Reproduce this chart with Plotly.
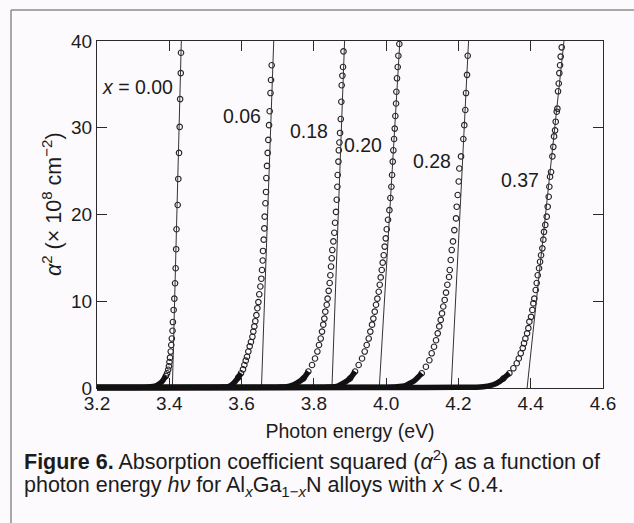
import plotly.graph_objects as go

# ---------------- data: alpha^2 (x 1e8 cm^-2) versus photon energy (eV) ----------------
COMPOSITIONS = ["0.00", "0.06", "0.18", "0.20", "0.28", "0.37"]

# measured points (resolved circles)
E_000 = [3.4324, 3.4318, 3.4300, 3.4288, 3.4270, 3.4250, 3.4233, 3.4200, 3.4190, 3.4176,
         3.4160, 3.4140, 3.4120, 3.4100, 3.4090, 3.4070, 3.4055, 3.4040, 3.4020, 3.4005,
         3.3990, 3.3970, 3.3940, 3.3910]
A2_000 = [38.65, 36.3, 33.3, 30.1, 27.1, 24.1, 21.1, 18.3, 16.0, 13.8,
          12.07, 10.3, 9.0, 7.6, 6.6, 5.7, 4.96, 4.2, 3.5, 3.0,
          2.5, 2.1, 1.7, 1.4]

E_006 = [3.6833, 3.6815, 3.6800, 3.6778, 3.6760, 3.6740, 3.6723, 3.6704, 3.6685, 3.6677,
         3.6660, 3.6640, 3.6630, 3.6613, 3.6593, 3.6585, 3.6566, 3.6547, 3.6520, 3.6490,
         3.6465, 3.6437, 3.6410, 3.6380, 3.6353, 3.6325, 3.6300, 3.6260, 3.6225, 3.6187,
         3.6150, 3.6115, 3.6077, 3.6040, 3.5985, 3.5910]
A2_006 = [37.2, 35.5, 34.0, 31.9, 30.3, 28.6, 27.1, 25.6, 24.2, 22.6,
          21.3, 19.75, 18.4, 17.1, 15.8, 14.7, 13.6, 12.6, 11.7, 10.8,
          9.9, 9.2, 8.4, 7.7, 7.1, 6.5, 5.9, 5.3, 4.8, 4.2,
          3.6, 3.15, 2.65, 2.15, 1.7, 1.23]

E_018 = [3.8820, 3.8807, 3.8790, 3.8770, 3.8760, 3.8745, 3.8725, 3.8707, 3.8690, 3.8680,
         3.8660, 3.8650, 3.8633, 3.8613, 3.8586, 3.8566, 3.8540, 3.8510, 3.8495, 3.8475,
         3.8456, 3.8438, 3.8410, 3.8380, 3.8356, 3.8317, 3.8290, 3.8260, 3.8226, 3.8190,
         3.8143, 3.8097, 3.8032, 3.7950, 3.7847, 3.7710]
A2_018 = [38.8, 37.0, 36.0, 34.9, 33.0, 31.0, 29.4, 28.3, 27.4, 26.1,
          24.55, 23.2, 21.7, 20.3, 19.05, 17.9, 16.9, 15.9, 14.95, 14.0,
          13.0, 12.1, 11.2, 10.3, 9.6, 8.8, 8.0, 7.3, 6.5, 5.7,
          4.96, 4.2, 3.4, 2.65, 1.9, 1.1]

E_020 = [4.0365, 4.0338, 4.0320, 4.0300, 4.0283, 4.0274, 4.0255, 4.0238, 4.0220, 4.0200,
         4.0183, 4.0164, 4.0145, 4.0117, 4.0090, 4.0052, 4.0016, 3.9989, 3.9960, 3.9933,
         3.9905, 3.9878, 3.9850, 3.9823, 3.9795, 3.9757, 3.9720, 3.9685, 3.9646, 3.9610,
         3.9562, 3.9518, 3.9462, 3.9407, 3.9333, 3.9240, 3.9140, 3.9000]
A2_020 = [39.65, 38.3, 37.0, 35.7, 34.15, 32.8, 31.35, 29.9, 28.7, 27.4,
          26.1, 24.55, 23.2, 21.9, 20.5, 19.4, 18.3, 17.25, 16.3, 15.3,
          14.45, 13.6, 12.75, 11.9, 11.1, 10.3, 9.6, 8.8, 8.0, 7.3,
          6.5, 5.7, 4.96, 4.2, 3.4, 2.65, 1.9, 1.1]

E_028 = [4.2257, 4.2238, 4.2210, 4.2190, 4.2163, 4.2136, 4.2072, 4.2025, 4.2008, 4.1980,
         4.1953, 4.1934, 4.1887, 4.1850, 4.1815, 4.1787, 4.1760, 4.1740, 4.1693, 4.1657,
         4.1620, 4.1580, 4.1546, 4.1510, 4.1470, 4.1427, 4.1380, 4.1325, 4.1260, 4.1196,
         4.1100, 4.0985]
A2_028 = [38.3, 36.1, 34.0, 32.05, 30.3, 28.7, 26.7, 25.3, 23.8, 22.25,
          20.9, 19.55, 18.2, 16.9, 15.9, 14.75, 13.6, 12.8, 11.9, 11.0,
          10.15, 9.4, 8.6, 7.85, 7.1, 6.3, 5.5, 4.76, 4.0, 3.2,
          2.45, 1.7]

E_037 = [4.4858, 4.4830, 4.4812, 4.4792, 4.4775, 4.4756, 4.4738, 4.4720, 4.4692, 4.4674,
         4.4646, 4.4626, 4.4600, 4.4563, 4.4535, 4.4516, 4.4498, 4.4470, 4.4443, 4.4404,
         4.4368, 4.4350, 4.4322, 4.4286, 4.4258, 4.4230, 4.4194, 4.4166, 4.4138, 4.4100,
         4.4073, 4.4045, 4.4009, 4.3963, 4.3935, 4.3900, 4.3852, 4.3815, 4.3780, 4.3724,
         4.3670, 4.3613, 4.3520, 4.3410, 4.3243]
A2_037 = [39.27, 38.2, 37.2, 36.3, 35.1, 34.2, 32.2, 31.85, 30.7, 29.7,
          29.0, 27.8, 26.7, 24.9, 24.35, 23.2, 22.05, 20.9, 19.75, 18.8,
          18.0, 17.1, 16.1, 15.3, 14.55, 13.8, 13.0, 12.1, 11.3, 10.3,
          9.75, 9.0, 8.2, 7.65, 6.9, 6.3, 5.7, 5.15, 4.6, 4.0,
          3.4, 2.85, 2.27, 1.7, 1.1]

# densely sampled sub-gap tail and onset (overlapping circles merge into a solid band)
TAIL_E_000 = [3.20, 3.30, 3.34, 3.355, 3.365, 3.375, 3.383, 3.390]
TAIL_A2_000 = [0.05, 0.06, 0.10, 0.18, 0.30, 0.55, 0.9, 1.4]
TAIL_E_006 = [3.20, 3.40, 3.50, 3.54, 3.563, 3.574, 3.582, 3.591, 3.5985]
TAIL_A2_006 = [0.05, 0.06, 0.08, 0.10, 0.15, 0.4, 0.73, 1.23, 1.7]
TAIL_E_018 = [3.20, 3.50, 3.65, 3.70, 3.725, 3.740, 3.7525, 3.762, 3.771, 3.7847]
TAIL_A2_018 = [0.05, 0.06, 0.08, 0.10, 0.15, 0.3, 0.55, 0.8, 1.1, 1.9]
TAIL_E_020 = [3.20, 3.60, 3.78, 3.83, 3.8586, 3.870, 3.8816, 3.891, 3.900, 3.914]
TAIL_A2_020 = [0.05, 0.06, 0.08, 0.10, 0.15, 0.3, 0.55, 0.8, 1.1, 1.9]
TAIL_E_028 = [3.20, 3.70, 3.95, 4.02, 4.045, 4.057, 4.068, 4.080, 4.0985]
TAIL_A2_028 = [0.05, 0.06, 0.08, 0.12, 0.2, 0.35, 0.6, 0.92, 1.7]
TAIL_E_037 = [3.20, 3.80, 4.10, 4.20, 4.25, 4.269, 4.290, 4.306, 4.316, 4.3243, 4.341]
TAIL_A2_037 = [0.05, 0.06, 0.06, 0.08, 0.10, 0.15, 0.3, 0.55, 0.8, 1.1, 1.7]

# linear fits: energy where the fit crosses alpha^2 = 0 and alpha^2 = 40
FIT_E_AT_0 = [3.4085, 3.655, 3.850, 3.981, 4.180, 4.390]
FIT_E_AT_40 = [3.4333, 3.689, 3.885, 4.038, 4.228, 4.492]
FIT_A2 = [0, 40]

# composition labels
LABEL_TEXT = ["<i>x</i> = 0.00", "0.06", "0.18", "0.20", "0.28", "0.37"]
LABEL_E = [3.311, 3.600, 3.787, 3.937, 4.126, 4.369]
LABEL_A2 = [34.7, 31.4, 29.6, 28.0, 26.2, 24.0]

X_TICKS = [3.2, 3.4, 3.6, 3.8, 4.0, 4.2, 4.4, 4.6]
X_TICK_TEXT = ["3.2", "3.4", "3.6", "3.8", "4.0", "4.2", "4.4", "4.6"]
Y_TICKS = [0, 10, 20, 30, 40]
Y_TICK_TEXT = ["0", "10", "20", "30", "40"]

POINTS = [(E_000, A2_000), (E_006, A2_006), (E_018, A2_018),
          (E_020, A2_020), (E_028, A2_028), (E_037, A2_037)]
TAILS = [(TAIL_E_000, TAIL_A2_000), (TAIL_E_006, TAIL_A2_006), (TAIL_E_018, TAIL_A2_018),
         (TAIL_E_020, TAIL_A2_020), (TAIL_E_028, TAIL_A2_028), (TAIL_E_037, TAIL_A2_037)]

# ---------------- geometry (pixels) ----------------
W, H = 634, 523
LEFT, RIGHT, TOP, BOTTOM = 97, 603, 41, 388
EXTRA = 10                      # lower subplot reaches a little below the axis line
PAPER_H = BOTTOM + EXTRA - TOP
PX_PER_UNIT = (BOTTOM - TOP) / 40.0
Y_DOMAIN_LOW = EXTRA / PAPER_H


def px_x(px):
    return (px - LEFT) / (RIGHT - LEFT)


def px_y(py):
    return (BOTTOM + EXTRA - py) / PAPER_H


FONT = "Liberation Sans, Arial, Helvetica, sans-serif"
INK = "#1c1c1c"
BG = "#fcfafc"

fig = go.Figure()

# solid tail band (kept on a subplot that extends below y = 0 so the band is not cut)
for (te, ta), comp in zip(TAILS, COMPOSITIONS):
    fig.add_trace(go.Scatter(x=te, y=ta, mode="lines", xaxis="x2", yaxis="y2",
                             line=dict(color="#111111", width=5.5, shape="spline"),
                             hoverinfo="skip", showlegend=False, name="x=" + comp))

for (pe, pa), comp in zip(POINTS, COMPOSITIONS):
    fig.add_trace(go.Scatter(x=pe, y=pa, mode="markers", cliponaxis=False,
                             marker=dict(symbol="circle-open", size=5.5, color="#222222",
                                         line=dict(width=1.1, color="#222222")),
                             showlegend=False, name="x=" + comp))

for e0, e40, comp in zip(FIT_E_AT_0, FIT_E_AT_40, COMPOSITIONS):
    fig.add_trace(go.Scatter(x=[e0, e40], y=FIT_A2, mode="lines",
                             line=dict(color="#333333", width=1),
                             hoverinfo="skip", showlegend=False, name="fit " + comp))

annotations = []
for t, e, a in zip(LABEL_TEXT, LABEL_E, LABEL_A2):
    annotations.append(dict(x=e, y=a, xref="x", yref="y", text=t, showarrow=False,
                            font=dict(family=FONT, size=19.5, color=INK),
                            xanchor="center", yanchor="middle"))

# y-axis title, placed a little above the axis midpoint
annotations.append(dict(
    x=px_x(52), y=px_y(204), xref="paper", yref="paper", xanchor="center",
    yanchor="middle", textangle=-90, showarrow=False,
    font=dict(family=FONT, size=21.5, color=INK),
    text="<i>α</i><sup>2</sup> (× 10<sup>8</sup> cm<sup>−2</sup>)"))

# caption
CAPTION_SIZE = 21.5
annotations.append(dict(
    x=px_x(22), y=px_y(460), xref="paper", yref="paper", xanchor="left", yanchor="middle",
    showarrow=False, font=dict(family=FONT, size=CAPTION_SIZE, color=INK),
    text="<b>Figure 6.</b> Absorption coefficient squared (<i>α</i><sup>2</sup>) as a function of"))
annotations.append(dict(
    x=px_x(22), y=px_y(486), xref="paper", yref="paper", xanchor="left", yanchor="middle",
    showarrow=False, font=dict(family=FONT, size=CAPTION_SIZE, color=INK),
    text="photon energy <i>hν</i> for Al<sub><i>x</i></sub>Ga<sub>1−<i>x</i></sub>N alloys with <i>x</i> &lt; 0.4."))

# outer frame (top and left rules)
shapes = [
    dict(type="line", xref="paper", yref="paper", x0=px_x(11), x1=px_x(640),
         y0=px_y(10), y1=px_y(10), line=dict(color="#8c8c8c", width=1.5)),
    dict(type="line", xref="paper", yref="paper", x0=px_x(11), x1=px_x(11),
         y0=px_y(10), y1=px_y(530), line=dict(color="#8c8c8c", width=1.5)),
]

axis_common = dict(showgrid=False, zeroline=False, showline=True, linecolor="#2a2a2a",
                   linewidth=1.2, ticks="inside", ticklen=10, tickwidth=1.1,
                   tickcolor="#2a2a2a", mirror="ticks",
                   tickfont=dict(family=FONT, size=19, color=INK))

fig.update_layout(
    width=W, height=H,
    margin=dict(l=LEFT, r=W - RIGHT, t=TOP, b=H - BOTTOM - EXTRA, pad=0),
    paper_bgcolor=BG, plot_bgcolor="rgba(0,0,0,0)",
    showlegend=False,
    xaxis=dict(range=[3.2, 4.6], domain=[0, 1], anchor="y", tickvals=X_TICKS,
               ticktext=X_TICK_TEXT, ticklabelstandoff=-2,
               title=dict(text="Photon energy (eV)", standoff=11,
                          font=dict(family=FONT, size=19.5, color=INK)),
               **axis_common),
    yaxis=dict(range=[0, 40], domain=[Y_DOMAIN_LOW, 1], anchor="x", tickvals=Y_TICKS,
               ticktext=Y_TICK_TEXT, **axis_common),
    xaxis2=dict(range=[3.2, 4.6], domain=[0, 1], anchor="y2", visible=False,
                fixedrange=True),
    yaxis2=dict(range=[-EXTRA / PX_PER_UNIT, 40], domain=[0, 1], anchor="x2",
                visible=False, fixedrange=True),
    annotations=annotations,
    shapes=shapes,
)

fig.write_html("out.html")
